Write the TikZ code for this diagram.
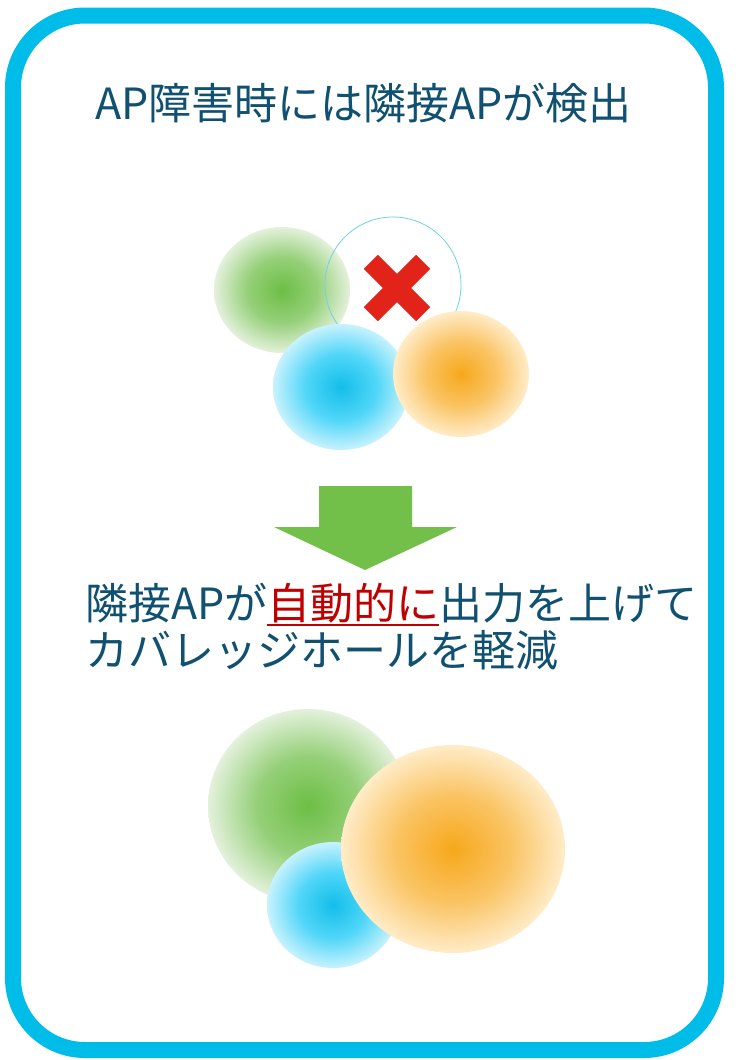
\documentclass[tikz,border=0pt]{standalone}
\usepackage{fontspec}
\newfontfamily\jp{Noto Sans CJK JP}
\definecolor{frame}{RGB}{0,188,232}
\definecolor{txt}{RGB}{16,80,112}
\definecolor{redtxt}{RGB}{192,0,0}
\definecolor{xred}{RGB}{226,35,26}
\definecolor{arrowgreen}{RGB}{114,191,74}
\definecolor{gC}{RGB}{109,190,69}
\definecolor{gM}{RGB}{150,208,122}
\definecolor{gE}{RGB}{228,241,220}
\definecolor{bC}{RGB}{19,190,233}
\definecolor{bM}{RGB}{80,214,248}
\definecolor{bE}{RGB}{200,242,253}
\definecolor{oC}{RGB}{247,168,27}
\definecolor{oM}{RGB}{250,196,100}
\definecolor{oE}{RGB}{255,236,200}
\definecolor{ring}{RGB}{110,210,235}
\pgfdeclareradialshading{greenshade}{\pgfpoint{0bp}{0bp}}{color(0bp)=(gC); color(13bp)=(gM); color(25bp)=(gE); color(50bp)=(gE)}
\pgfdeclareradialshading{blueshade}{\pgfpoint{0bp}{0bp}}{color(0bp)=(bC); color(13bp)=(bM); color(25bp)=(bE); color(50bp)=(bE)}
\pgfdeclareradialshading{orangeshade}{\pgfpoint{0bp}{0bp}}{color(0bp)=(oC); color(13bp)=(oM); color(25bp)=(oE); color(50bp)=(oE)}
\tikzset{
  label text/.style={font=\jp\fontsize{43}{48}\selectfont, text=txt, inner sep=0pt, outer sep=0pt},
  greencell/.style={shading=greenshade},
  bluecell/.style={shading=blueshade},
  orangecell/.style={shading=orangeshade},
  xbar/.style={fill=xred, minimum width=74pt, minimum height=20pt, inner sep=0pt, draw=none, rectangle}
}
\begin{document}
\begin{tikzpicture}[x=1pt,y=-1pt]
\useasboundingbox (0,0) rectangle (755,1060);
\fill[white] (0,0) rectangle (755,1060);
% frame
\draw[frame, line width=16pt, rounded corners=72pt] (13,15.5) rectangle (716,1050);
% title
\node[label text, anchor=base west] (title) at (95,119) {AP障害時には隣接APが検出};
% top group
\shade[greencell] (282,290) ellipse [x radius=68, y radius=63];
\draw[ring, line width=0.8pt] (393,285) circle [radius=68];
\node[xbar, rotate=45] (xa) at (397,288) {};
\node[xbar, rotate=-45] (xb) at (397,288) {};
\shade[bluecell] (341,387) ellipse [x radius=68, y radius=63];
\shade[orangecell] (461,374) ellipse [x radius=68, y radius=63];
% arrow
\fill[arrowgreen] (319,486) -- (412,486) -- (412,527) -- (457,527) -- (365,570) -- (274,527) -- (319,527) -- cycle;
% result text
\node[label text, anchor=base west] (r1) at (85,619) {隣接APが};
\node[label text, anchor=base west, text=redtxt] (r2) at (r1.base east) {自動的に};
\node[label text, anchor=base west] (r3) at (r2.base east) {出力を上げて};
\draw[redtxt, line width=2.6pt] ([yshift=-6pt]r2.base west) -- ([yshift=-6pt]r2.base east);
\node[label text, anchor=base west] (r4) at (85,666) {カバレッジホールを軽減};
% bottom group
\shade[greencell] (308,806) ellipse [x radius=100, y radius=97];
\shade[bluecell] (333,905) ellipse [x radius=66, y radius=63];
\shade[orangecell] (453,849) ellipse [x radius=112, y radius=104];
\end{tikzpicture}
\end{document}
